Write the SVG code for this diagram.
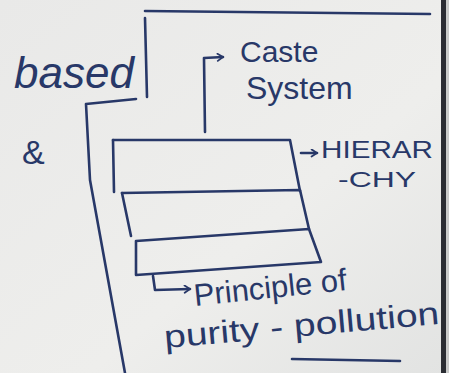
<svg xmlns="http://www.w3.org/2000/svg" width="449" height="373" viewBox="0 0 449 373">
  <defs>
    <linearGradient id="board" x1="0" y1="0" x2="1" y2="1">
      <stop offset="0" stop-color="#e9e9e8"/>
      <stop offset="0.6" stop-color="#eeeeec"/>
      <stop offset="1" stop-color="#e2e3e2"/>
    </linearGradient>
    <marker id="chev" viewBox="0 0 10 10" refX="8" refY="5" markerWidth="9" markerHeight="9" markerUnits="userSpaceOnUse" orient="auto">
      <polyline points="2,1 8,5 2,9" fill="none" stroke="#283868" stroke-width="2" stroke-linecap="round" stroke-linejoin="round"/>
    </marker>
  </defs>
  <style>
    .ink { fill: none; stroke: #283868; stroke-width: 2.6; stroke-linecap: round; stroke-linejoin: round; }
    .txt { fill: #283868; font-family: "Liberation Sans", "DejaVu Sans", sans-serif; }
  </style>

  <!-- board surface and frame edge -->
  <rect width="449" height="373" fill="url(#board)"/>
  <rect x="441" y="0" width="5" height="373" fill="#2b2d33"/>
  <rect x="446" y="0" width="3" height="373" fill="#c9cac9"/>

  <!-- connectors and frame lines -->
  <g id="connectors">
    <path class="ink" d="M145,11 L430,14"/>
    <path class="ink" d="M145,18 L147,97"/>
    <path class="ink" d="M136,99 L86,104 L90,180 L125,373"/>
    <path class="ink" d="M205,132 L204,58 L223,57" marker-end="url(#chev)"/>
    <path class="ink" d="M301,153 L317,153" marker-end="url(#chev)"/>
    <path class="ink" d="M153,276 L155,290 L190,289" marker-end="url(#chev)"/>
    <path class="ink" d="M292,359 L400,361"/>
  </g>

  <!-- stacked tiers -->
  <g id="tier1">
    <path class="ink" d="M113,140 L290,140 L300,191"/>
    <path class="ink" d="M113,140 L114,192"/>
  </g>
  <g id="tier2">
    <path class="ink" d="M122,193 L300,190 L309,229"/>
    <path class="ink" d="M122,193 L131,236"/>
  </g>
  <g id="tier3">
    <path class="ink" d="M136,241 L309,229 L321,262 L136,275 Z"/>
  </g>

  <!-- labels -->
  <g id="label-based">
    <text class="txt" x="14" y="88" font-size="44" font-style="italic">based</text>
  </g>
  <g id="label-and">
    <text class="txt" x="22" y="164" font-size="34">&amp;</text>
  </g>
  <g id="label-caste">
    <text class="txt" x="240" y="62" font-size="30">Caste</text>
    <text class="txt" x="246" y="99" font-size="32">System</text>
  </g>
  <g id="label-hierarchy">
    <text class="txt" x="321" y="158" font-size="24" textLength="112" lengthAdjust="spacingAndGlyphs">HIERAR</text>
    <text class="txt" x="338" y="187" font-size="22" textLength="78" lengthAdjust="spacingAndGlyphs">-CHY</text>
  </g>
  <g id="label-purity">
    <text class="txt" x="195" y="306" font-size="31" transform="rotate(-6 195 306)">Principle of</text>
    <text class="txt" x="165" y="348" font-size="32" transform="rotate(-5 165 348)" textLength="276" lengthAdjust="spacingAndGlyphs">purity - pollution</text>
  </g>
</svg>
